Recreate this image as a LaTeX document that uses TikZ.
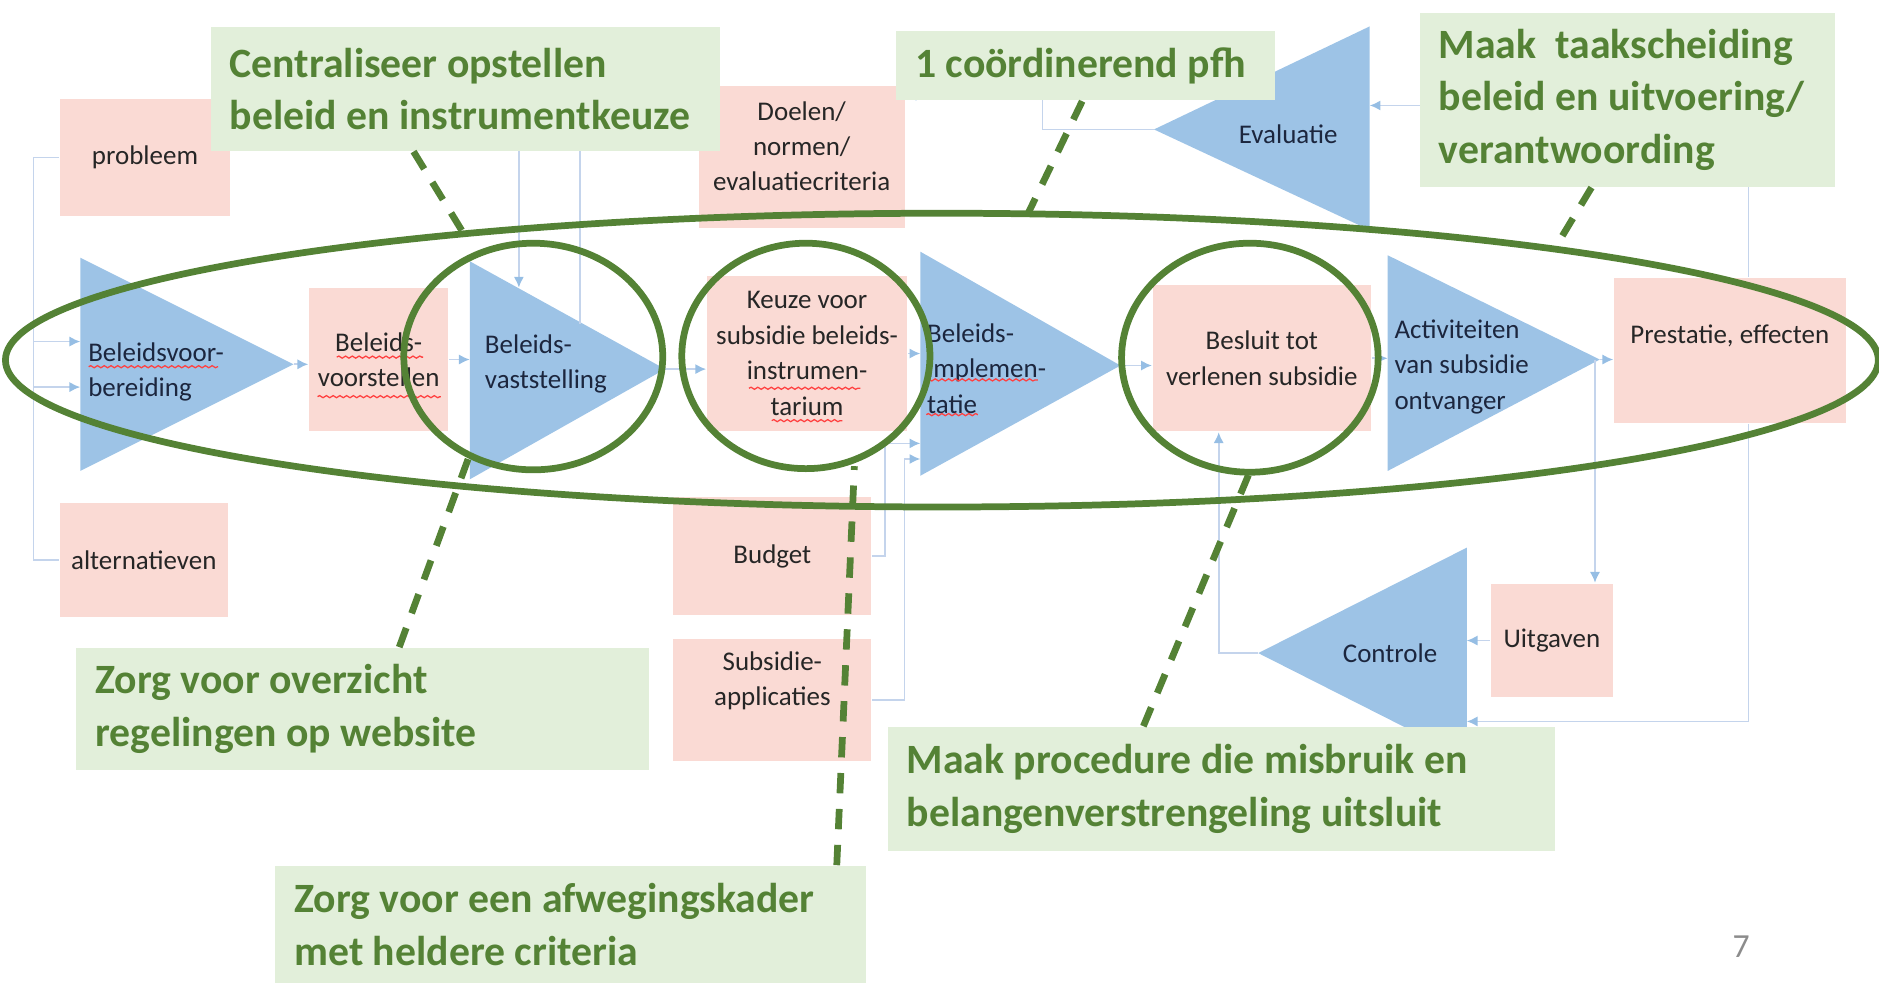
\documentclass[tikz,border=0pt]{standalone}
\usepackage{fontspec}
\setmainfont{Carlito}
\usetikzlibrary{arrows.meta,decorations.pathmorphing}

\definecolor{pinkfill}{RGB}{250,218,212}
\definecolor{trifill}{RGB}{157,195,230}
\definecolor{linkblue}{RGB}{196,212,236}
\definecolor{tipblue}{RGB}{150,190,228}
\definecolor{notefill}{RGB}{226,239,218}
\definecolor{notegreen}{RGB}{84,130,53}
\definecolor{navytext}{RGB}{28,38,62}

\tikzset{
  pinktext/.style={inner sep=0pt,align=center,text=black!85,font=\fontsize{6.4}{8.4}\selectfont},
  pinkbox/.style={fill=pinkfill,pinktext},
  tritext/.style={inner sep=0pt,align=left,text=navytext,font=\fontsize{6.4}{8.4}\selectfont},
  bare/.style={draw=linkblue,line width=0.4pt},
  link/.style={bare,-{Latex[length=0.09cm,width=0.085cm,color=tipblue]}},
  notebox/.style={fill=notefill,anchor=north west,inner sep=0pt},
  notetext/.style={inner xsep=0.16cm,inner ysep=0pt,align=left,
    text=notegreen,font=\fontsize{9.9}{12.5}\selectfont\bfseries},
  ring/.style={draw=notegreen,line width=1.6pt},
  tipline/.style={draw=notegreen,line width=1.6pt,dash pattern=on 0.17cm off 0.13cm},
  squig/.style={draw=red!75,line width=0.3pt,decorate,decoration={snake,amplitude=0.25pt,segment length=1.6pt}}
}

\begin{document}
\begin{tikzpicture}[x=0.01cm,y=-0.01cm]
  \useasboundingbox (0,0) rectangle (1568,820);
   % corners of the process triangles
   \coordinate (VbTop) at (67,215);   \coordinate (VbBot) at (67,393);   \coordinate (VbTip) at (245,304);
   \coordinate (VsTop) at (392,218);  \coordinate (VsBot) at (392,400);  \coordinate (VsTip) at (555,308);
   \coordinate (ImTop) at (768,210);  \coordinate (ImBot) at (768,397);  \coordinate (ImTip) at (935,305);
   \coordinate (AcTop) at (1158,213); \coordinate (AcBot) at (1158,393); \coordinate (AcTip) at (1335,300);
   \coordinate (EvTop) at (1143,22);  \coordinate (EvBot) at (1143,192); \coordinate (EvTip) at (963,108);
   \coordinate (CoTop) at (1224,457); \coordinate (CoBot) at (1224,633); \coordinate (CoTip) at (1050,545);

  \foreach \a in {Vb,Vs,Im,Ac,Ev,Co}
    \fill[trifill] (\a Top) -- (\a Bot) -- (\a Tip) -- cycle;

  \node[pinkbox,minimum width=1.42cm,minimum height=0.97cm] (probleem) at (121,131.5) {probleem};
  \node[pinkbox,minimum width=1.40cm,minimum height=0.95cm] (alternatieven) at (120,467.5) {alternatieven};
  \node[pinkbox,minimum width=1.16cm,minimum height=1.20cm] (voorstellen) at (316,300) {Beleids-\\voorstellen};
  \node[pinkbox,minimum width=1.72cm,minimum height=1.18cm,
        label={[pinktext,yshift=0.09cm]center:{Doelen/\\normen/\\evaluatiecriteria}}] (doelen) at (669,131) {};
  \node[pinkbox,minimum width=1.67cm,minimum height=1.30cm] (keuze) at (673.5,295) {Keuze voor\\subsidie beleids-\\instrumen-\\tarium};
  \node[pinkbox,minimum width=1.65cm,minimum height=0.98cm] (budget) at (644.5,464) {Budget};
  \node[pinkbox,minimum width=1.65cm,minimum height=1.02cm,
        label={[pinktext,yshift=0.16cm]center:{Subsidie-\\applicaties}}] (applicaties) at (644.5,584) {};
  \node[pinkbox,minimum width=1.82cm,minimum height=1.22cm] (besluit) at (1053,299) {Besluit tot\\verlenen subsidie};
  \node[pinkbox,minimum width=1.93cm,minimum height=1.21cm,
        label={[pinktext,yshift=0.12cm]center:{Prestatie, effecten}}] (prestatie) at (1443.5,292.5) {};
  \node[pinkbox,minimum width=1.02cm,minimum height=0.95cm] (uitgaven) at (1295,534.5) {Uitgaven};

  \node[tritext,anchor=west] (Vb) at (73,310.5) {Beleidsvoor-\\bereiding};
  \node[tritext,anchor=west] (Vs) at (404,303.5) {Beleids-\\vaststelling};
  \node[tritext,anchor=west] (Im) at (773,307.5) {Beleids-\\implemen-\\tatie};
  \node[tritext,anchor=west] (Ac) at (1163,306) {Activiteiten\\van subsidie\\ontvanger};
  \node[tritext] (Ev) at (1075,112) {Evaluatie};
  \node[tritext] (Co) at (1160,545) {Controle};

  % spelling marks
  \foreach \xa/\xb/\yy in {74/182/306,281/353/298,265/368/331,625/718/324,644/703/351,773/866/317,773/816/346}
    \draw[squig] (\xa,\yy) -- (\xb,\yy);

  % flow lines
   \coordinate (Lbar) at (28,0);
   \coordinate (VbIn1) at (67,285);
   \coordinate (VbIn2) at (67,323);
   \coordinate (VsIn1) at (433,240);
   \coordinate (VsIn2) at (484,270);
   \coordinate (ImIn1) at (768,370);
   \coordinate (ImIn2) at (768,383);
   \coordinate (Split) at (1331,300);
   \coordinate (Up) at (1017,0);
   \coordinate (Rbar) at (1459,0);
   \coordinate (EvIn) at (1143,88);
   \coordinate (CoIn) at (1224,602);
   \coordinate (EvBend) at (870,80);
  \draw[bare] (probleem.west) -| (Lbar |- alternatieven.west) -- (alternatieven.west);
  \draw[link] (Lbar |- VbIn1) -- (VbIn1);
  \draw[link] (Lbar |- VbIn2) -- (VbIn2);
  \draw[link] (VbTip) -- (VbTip -| voorstellen.west);
  \draw[link] (voorstellen.east) -- (voorstellen.east -| VsTop);
  \draw[link] (VsTip) -- (VsTip -| keuze.west);
  \draw[link] (keuze.east) -- (keuze.east -| ImTop);
  \draw[link] (ImTip) -- (ImTip -| besluit.west);
  \draw[link] (besluit.east) -- (besluit.east -| AcTop);
  \draw[link] (AcTip) -- (AcTip -| prestatie.west);
  \draw[link] ([yshift=0.35cm]doelen.west) -| (VsIn1);
  \draw[bare] ([yshift=0.20cm]doelen.west) -| (VsIn2);
  \draw[link] (budget.east) -- ++(11,0) |- (ImIn1);
  \draw[link] (applicaties.east) -- ++(27,0) |- (ImIn2);
  \draw[link] (Split) -- (Split |- uitgaven.north);
  \draw[link] (uitgaven.west) -- (uitgaven.west -| CoTop);
  \draw[link] (CoTip) -| (Up |- besluit.south);
  \draw[link] (Rbar |- prestatie.north) |- (EvIn);
  \draw[link] (Rbar |- prestatie.south) |- (CoIn);
  \draw[link] (EvTip) -| (EvBend) -- (EvBend -| doelen.east);

  % rings
  \draw[ring] (786,300.5) ellipse [x radius=7.81cm, y radius=1.225cm];
  \draw[ring] (445,297.5) ellipse [x radius=1.08cm, y radius=0.945cm];
  \draw[ring] (672.5,297) ellipse [x radius=1.035cm, y radius=0.94cm];
  \draw[ring] (1043,298.5) ellipse [x radius=1.07cm, y radius=0.955cm];

  % notes
  \node[notebox,minimum width=4.25cm,minimum height=1.03cm,
        label={[notetext,anchor=west]west:{Centraliseer opstellen\\beleid en instrumentkeuze}}] (Centr) at (175,22) {};
  \node[notebox,minimum width=3.16cm,minimum height=0.58cm,
        label={[notetext,anchor=west]west:{1 coördinerend pfh}}] (Pfh) at (747,25) {};
  \node[notebox,minimum width=3.46cm,minimum height=1.45cm,
        label={[notetext,anchor=west]west:{Maak\ \ taakscheiding\\beleid en uitvoering/\\verantwoording}}] (Taak) at (1184,10) {};
  \node[notebox,minimum width=4.78cm,minimum height=1.02cm,
        label={[notetext,anchor=west]west:{Zorg voor overzicht\\regelingen op website}}] (Overz) at (63,540) {};
  \node[notebox,minimum width=4.93cm,minimum height=0.98cm,
        label={[notetext,anchor=west]west:{Zorg voor een afwegingskader\\met heldere criteria}}] (Kader) at (229,722) {};
  \node[notebox,minimum width=5.57cm,minimum height=1.03cm,
        label={[notetext,anchor=west]west:{Maak procedure die misbruik en\\belangenverstrengeling uitsluit}}] (Proc) at (740,606) {};

   \coordinate (CentrEnd) at (387,195);
   \coordinate (PfhEnd) at (857,180);
   \coordinate (TaakEnd) at (1297,208);
   \coordinate (OverzEnd) at (391,382);
   \coordinate (KaderEnd) at (713,389);
   \coordinate (ProcEnd) at (1042,396);
  \draw[tipline] ([xshift=1.70cm]Centr.south west) -- (CentrEnd);
  \draw[tipline] ([xshift=1.56cm]Pfh.south west) -- (PfhEnd);
  \draw[tipline] ([xshift=1.44cm]Taak.south west) -- (TaakEnd);
  \draw[tipline] ([xshift=2.70cm]Overz.north west) -- (OverzEnd);
  \draw[tipline] ([xshift=4.69cm]Kader.north west) -- (KaderEnd);
  \draw[tipline] ([xshift=2.14cm]Proc.north west) -- (ProcEnd);

  \node[text=black!45,font=\fontsize{8}{9.6}\selectfont] (PageNo) at (1453,790) {7};
\end{tikzpicture}
\end{document}
